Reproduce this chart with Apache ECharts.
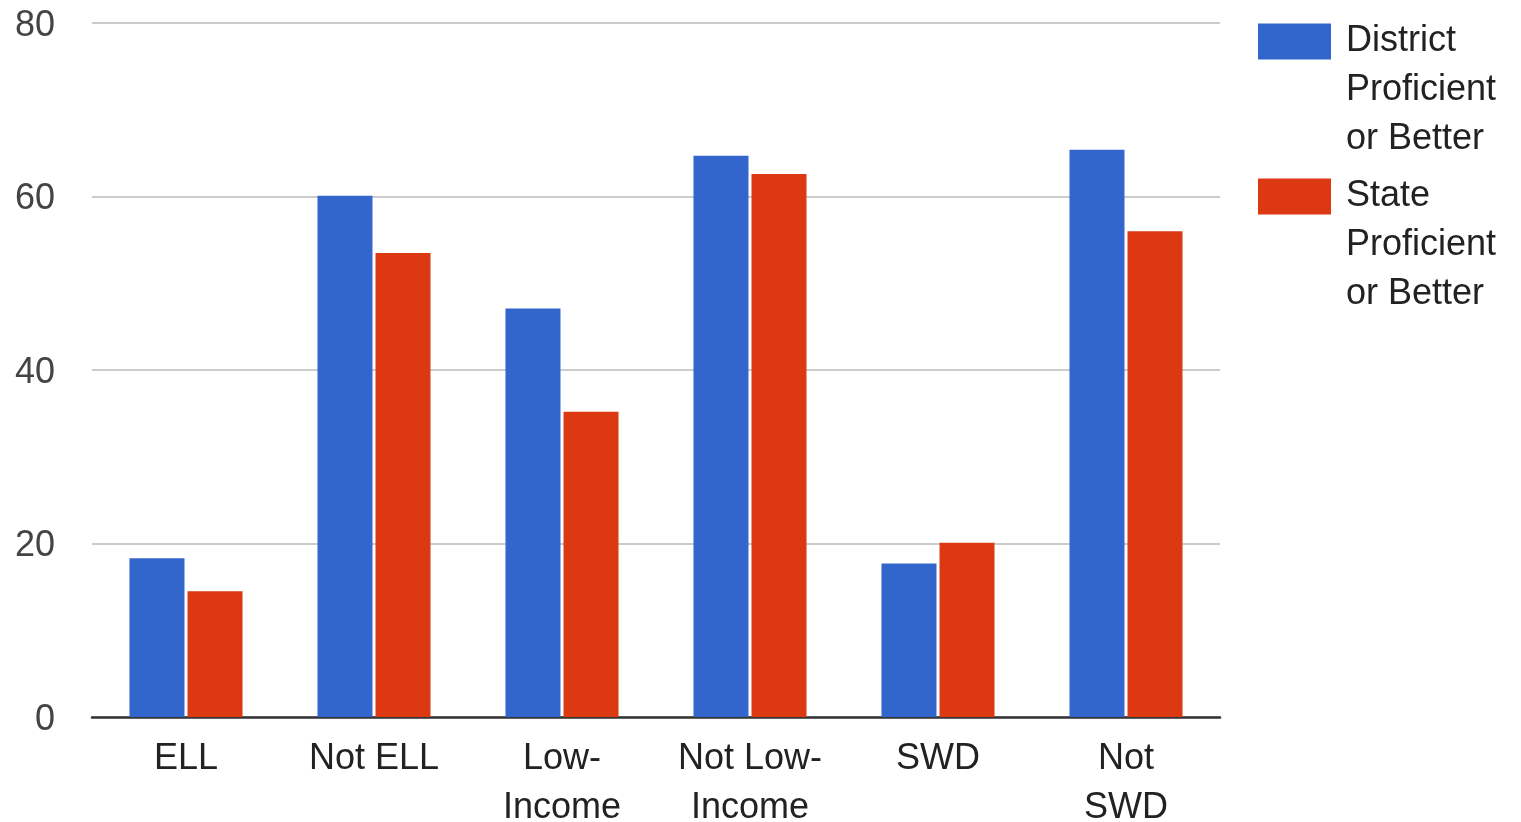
<!DOCTYPE html>
<html>
<head>
<meta charset="utf-8">
<script src="https://cdn.jsdelivr.net/npm/echarts@6/dist/echarts.min.js"></script>
<style>
html,body{margin:0;padding:0;background:#fff;}
#chart{width:1521px;height:822px;}
</style>
</head>
<body>
<div id="chart"></div>
<script>
const categories = ['ELL', 'Not ELL', 'Low-\nIncome', 'Not Low-\nIncome', 'SWD', 'Not\nSWD'];
const districtName = 'District\nProficient\nor Better';
const stateName = 'State\nProficient\nor Better';
const districtValues = [18.3, 60.1, 47.1, 64.7, 17.7, 65.4];
const stateValues = [14.5, 53.5, 35.2, 62.6, 20.1, 56.0];
const yTicks = { min: 0, max: 80, interval: 20 };

const FONT = '"Liberation Sans", Arial, sans-serif';
const chart = echarts.init(document.getElementById('chart'), null, { renderer: 'canvas' });

function legendFor(name, top) {
  return {
    data: [name],
    orient: 'vertical',
    left: 1258,
    top: top,
    padding: 0,
    itemWidth: 73,
    itemHeight: 36,
    icon: 'rect',
    selectedMode: false,
    formatter: function (n) { return '\n\n' + n; },
    textStyle: {
      fontFamily: FONT,
      fontSize: 36,
      lineHeight: 49,
      color: '#222',
      padding: [0, 0, 0, 10]
    }
  };
}

chart.setOption({
  animation: false,
  backgroundColor: '#fff',
  color: ['#3366cc', '#dc3912'],
  legend: [legendFor(districtName, -81), legendFor(stateName, 74)],
  grid: { left: 92, right: 301, top: 23, bottom: 105, containLabel: false, outerBoundsMode: 'none' },
  xAxis: {
    type: 'category',
    data: categories,
    axisLine: { show: true, lineStyle: { color: '#333', width: 2.5 } },
    axisTick: { show: false },
    axisLabel: {
      fontFamily: FONT, fontSize: 36, lineHeight: 49, color: '#222',
      margin: 18, interval: 0
    },
    splitLine: { show: false }
  },
  yAxis: {
    type: 'value',
    min: yTicks.min, max: yTicks.max, interval: yTicks.interval,
    axisLine: { show: false },
    axisTick: { show: false },
    axisLabel: {
      margin: 37,
      formatter: '{v|{value}}',
      rich: { v: { fontFamily: FONT, fontSize: 36, color: '#444', padding: [6, 0, 0, 0] } }
    },
    splitLine: { lineStyle: { color: '#cccccc', width: 2 } }
  },
  series: [
    { name: districtName, type: 'bar', data: districtValues, barWidth: 55, barGap: '5.5%' },
    { name: stateName, type: 'bar', data: stateValues, barWidth: 55, barGap: '5.5%' }
  ]
});
</script>
</body>
</html>
